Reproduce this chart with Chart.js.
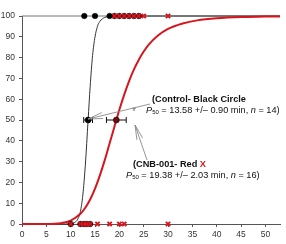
<!DOCTYPE html>
<html>
<head>
<meta charset="utf-8">
<script src="https://cdn.jsdelivr.net/npm/chart.js@4.4.1/dist/chart.umd.min.js"></script>
<style>
  html, body { margin: 0; padding: 0; background: #fff; }
  #wrap { width: 286px; height: 244px; position: relative; }
</style>
</head>
<body>
<div id="wrap"><canvas id="chart"></canvas></div>
<script>
// fitted curves
const ctlCurveX = [0, 9, 10, 11, 11.5, 12, 12.5, 13, 13.58, 14, 14.5, 15, 15.5, 16, 17, 18, 20, 53];
const ctlCurveY = [0, 0, 0.1, 1, 2.5, 6, 14, 28, 50, 66, 81, 90, 95, 97.4, 99.3, 99.8, 100, 100];
const cnbCurveX = [0, 5, 8, 10, 12, 13, 14, 15, 16, 17, 18, 19, 20, 21, 22, 23, 24, 25, 26, 28, 30, 33, 36, 40, 45, 50, 53];
const cnbCurveY = [0, 0, 0.4, 1.6, 4.9, 7.8, 11.8, 17, 23.4, 30.7, 38.8, 46.9, 54.9, 62.2, 68.7, 74.3, 79, 82.9, 86.1, 90.7, 93.8, 96.4, 97.9, 98.9, 99.5, 99.7, 99.8];

// individual animals (0 = not yet, 100 = reached)
const ctlTopX = [12.8, 15, 18, 19, 20, 21, 22, 23, 24];
const ctlBottomX = [10, 12, 12.7, 13.3, 14];
const cnbTopX = [19, 20, 21, 22, 23, 24, 25, 30];
const cnbBottomX = [10, 12, 12.7, 13.3, 14, 15.5, 18, 20, 21, 30];

// P50 +/- error
const p50 = [13.58, 19.38];
const p50Err = [0.90, 2.03];
const p50Level = 50;

const refLineX = [0, 53];
const refLineY = [100, 100];

const xTicks = [0, 5, 10, 15, 20, 25, 30, 35, 40, 45, 50];
const yTicks = [0, 10, 20, 30, 40, 50, 60, 70, 80, 90, 100];

const RED = 'rgb(214,22,30)';

function pts(xs, ys) { return xs.map((x, i) => ({ x: x, y: ys[i] })); }
function flat(xs, y) { return xs.map(x => ({ x: x, y: y })); }

function drawArrow(c, x1, y1, x2, y2) {
  // line from (x1,y1) to tip (x2,y2), open head
  const a = Math.atan2(y1 - y2, x1 - x2);
  const L = 15, s = 0.2;
  c.beginPath();
  c.moveTo(x1, y1); c.lineTo(x2, y2);
  c.moveTo(x2 + L * Math.cos(a - s), y2 + L * Math.sin(a - s));
  c.lineTo(x2, y2);
  c.lineTo(x2 + L * Math.cos(a + s), y2 + L * Math.sin(a + s));
  c.stroke();
}

function drawParts(c, x, y, parts) {
  parts.forEach(p => {
    c.font = (p.italic ? 'italic ' : '') + (p.bold ? 'bold ' : '') + (p.sub ? '6px' : '9.2px') + ' "Liberation Sans", Arial, sans-serif';
    c.fillStyle = p.color || '#111';
    c.fillText(p.t, x, p.sub ? y + 2.5 : y);
    x += c.measureText(p.t).width;
  });
}

const extras = {
  id: 'extras',
  beforeDatasetsDraw(chart) {
    const c = chart.ctx, xs = chart.scales.x, ys = chart.scales.y;
    c.save();
    c.strokeStyle = '#111';
    c.lineWidth = 1;
    p50.forEach((v, i) => {
      const y = ys.getPixelForValue(p50Level);
      const a = xs.getPixelForValue(v - p50Err[i]);
      const b = xs.getPixelForValue(v + p50Err[i]);
      c.beginPath();
      c.moveTo(a, y); c.lineTo(b, y);
      c.moveTo(a, y - 3); c.lineTo(a, y + 3);
      c.moveTo(b, y - 3); c.lineTo(b, y + 3);
      c.stroke();
    });
    c.restore();
  },
  afterDraw(chart) {
    const c = chart.ctx, xs = chart.scales.x, ys = chart.scales.y;
    c.save();
    c.strokeStyle = '#8a8a8a';
    c.lineWidth = 0.9;
    drawArrow(c, 150, 104, xs.getPixelForValue(p50[0]), ys.getPixelForValue(p50Level) - 1);
    drawArrow(c, 147, 160, 135, 125);
    c.fillStyle = '#777';
    c.font = '10px "Liberation Sans", Arial, sans-serif';
    c.textBaseline = 'middle';
    c.fillText('*', 132, 112);

    drawParts(c, 152, 99, [{ t: '(Control- Black Circle', bold: true }]);
    drawParts(c, 146, 110, [
      { t: 'P', italic: true }, { t: '50', sub: true },
      { t: ' = 13.58 +/\u2013 0.90 min, ' }, { t: 'n', italic: true }, { t: ' = 14)' }
    ]);
    drawParts(c, 133, 164, [{ t: '(CNB-001- Red ', bold: true }, { t: 'X', bold: true, color: RED }]);
    drawParts(c, 126, 175, [
      { t: 'P', italic: true }, { t: '50', sub: true },
      { t: ' = 19.38 +/\u2013 2.03 min, ' }, { t: 'n', italic: true }, { t: ' = 16)' }
    ]);
    c.restore();
  }
};

const tickFont = { family: '"Liberation Sans", Arial, sans-serif', size: 8.5 };

new Chart('chart', {
  type: 'scatter',
  data: {
    datasets: [
      { data: pts(refLineX, refLineY), showLine: true, borderColor: '#777', borderWidth: 1, pointRadius: 0, order: 9 },
      { data: pts(ctlCurveX, ctlCurveY), showLine: true, borderColor: '#333', borderWidth: 1, pointRadius: 0, cubicInterpolationMode: 'monotone', order: 8 },
      { data: pts(cnbCurveX, cnbCurveY), showLine: true, borderColor: RED, borderWidth: 2, pointRadius: 0, cubicInterpolationMode: 'monotone', order: 7 },
      { data: flat(ctlTopX, 100).concat(flat(ctlBottomX, 0)), pointStyle: 'circle', pointRadius: 2.8, backgroundColor: '#000', borderColor: '#000', borderWidth: 0.5, order: 5 },
      { data: flat(cnbTopX, 100).concat(flat(cnbBottomX, 0)), pointStyle: 'crossRot', pointRadius: 3, borderColor: RED, borderWidth: 2, order: 4 },
      { data: [{ x: p50[0], y: p50Level }], pointRadius: 3, backgroundColor: '#000', borderColor: '#000', borderWidth: 0.5, order: 3 },
      { data: [{ x: p50[1], y: p50Level }], pointRadius: 3, backgroundColor: '#6e0b0b', borderColor: '#000', borderWidth: 0.5, order: 2 }
    ]
  },
  options: {
    responsive: true,
    maintainAspectRatio: false,
    animation: false,
    clip: false,
    layout: { padding: { top: 16, right: 1, left: 0, bottom: 0 } },
    plugins: { legend: { display: false }, tooltip: { enabled: false } },
    scales: {
      x: {
        type: 'linear', min: 0, max: 53,
        afterBuildTicks: s => { s.ticks = xTicks.map(v => ({ value: v })); },
        afterFit: s => { s.height = 20; },
        ticks: { font: tickFont, color: '#333', padding: 3, maxRotation: 0 },
        grid: { drawOnChartArea: false, tickLength: 3, color: '#555' },
        border: { color: '#555' }
      },
      y: {
        min: 0, max: 100,
        afterBuildTicks: s => { s.ticks = yTicks.map(v => ({ value: v })); },
        afterFit: s => { s.width = 22; },
        ticks: { font: tickFont, color: '#333', padding: 4 },
        grid: { drawOnChartArea: false, tickLength: 3, color: '#555' },
        border: { color: '#555' }
      }
    }
  },
  plugins: [extras]
});
</script>
</body>
</html>
